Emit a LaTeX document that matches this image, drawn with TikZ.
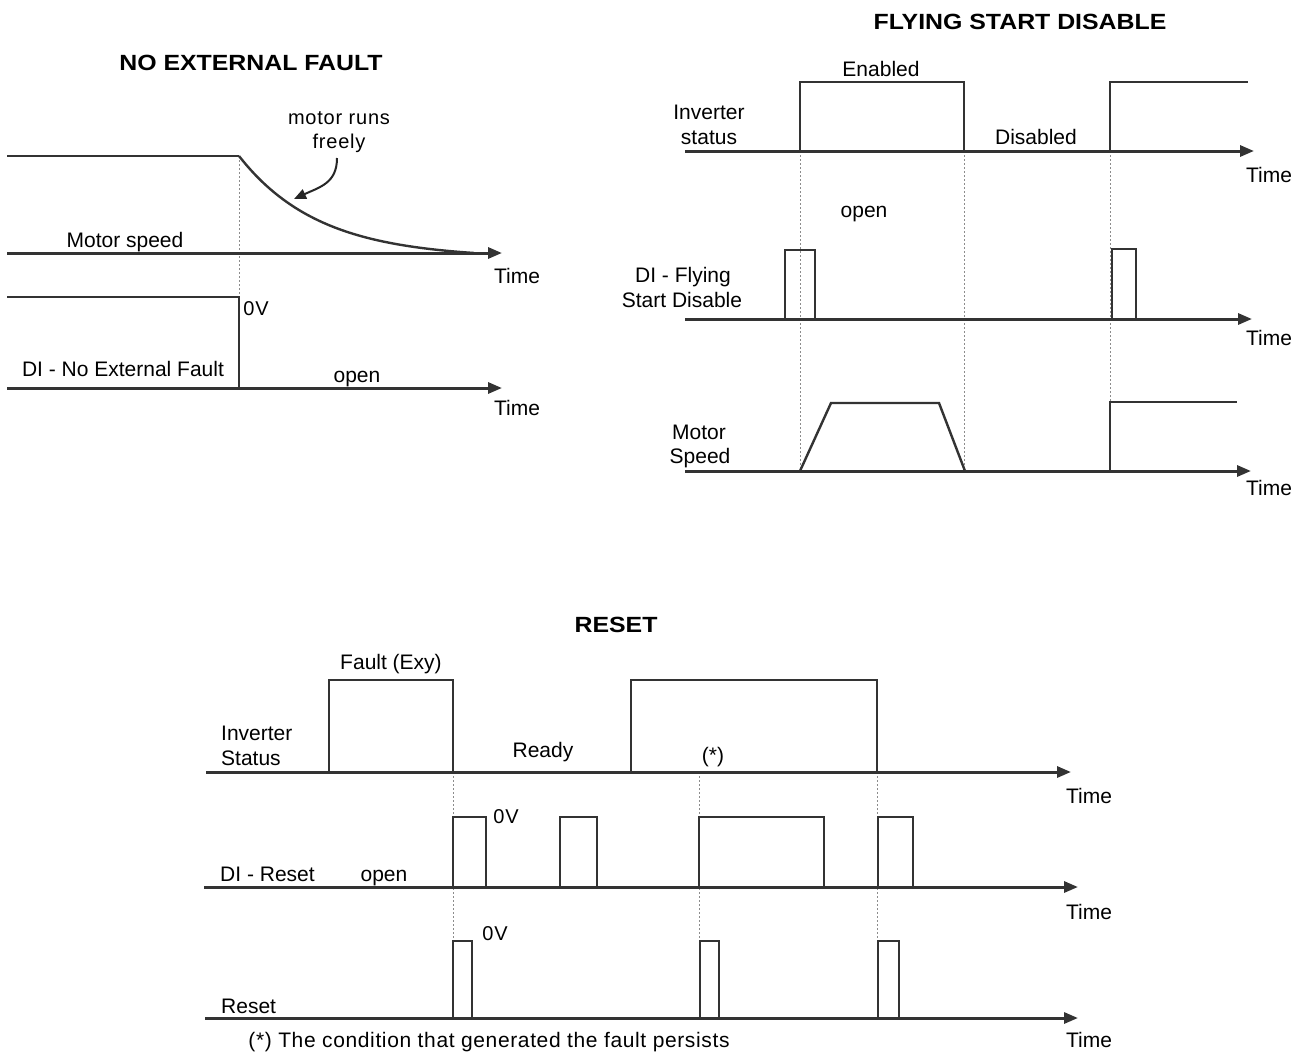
\documentclass[tikz,border=0pt]{standalone}
\usepackage{fontspec}
\setmainfont{Liberation Sans}
\newfontfamily\titlefont{Liberation Sans}[FakeStretch=1.13]
\usetikzlibrary{arrows.meta}
\begin{document}
\begin{tikzpicture}[x=1pt,y=-1pt,
  sig/.style={draw=black!80, line width=2.4pt, line join=miter},
  axis/.style={draw=black!80, line width=3pt, -{Triangle[length=14pt,width=11pt]}},
  guide/.style={draw=black!45, line width=0.9pt, dash pattern=on 2pt off 2pt},
  lbl/.style={inner sep=0pt, anchor=base, text=black, font=\fontsize{21}{24}\selectfont},
  lblw/.style={lbl, anchor=base west},
  spaced/.style={inner sep=0pt, anchor=base, text=black, font=\fontsize{20}{24}\selectfont\addfontfeature{LetterSpace=4}},
  ttl/.style={inner sep=0pt, anchor=base, text=black, font=\titlefont\bfseries\fontsize{22}{26}\selectfont}]
\useasboundingbox[fill=white] (0,0) rectangle (1301,1055);

% ===== NO EXTERNAL FAULT =====
\node[ttl] (t1) at (251,70) {NO EXTERNAL FAULT};
\draw[guide] (239,156) -- (239,297);
\draw[sig] (7,156) -- (239,156);
\draw[sig] plot[domain=0:235, samples=60] ({239+\x},{253-97*(exp(-\x/80)-0.0529)/0.9471});
\draw[axis] (7,253) -- (502,253);
\draw[sig] (7,297) -- (239,297) -- (239,388);
\draw[axis] (7,388) -- (502,388);
\node[spaced] (mr1) at (339,124) {motor runs};
\node[spaced] (mr2) at (339,148) {freely};
\coordinate (crvA) at (337,158);
\coordinate (crvB) at (294,199);
\draw[line width=2pt, draw=black!85, -{Triangle[length=12pt,width=10pt]}] (crvA) .. controls (337,183) and (320,187) .. (crvB);
\node[lbl] (ms) at (125,247) {Motor speed};
\node[lbl] (tm1) at (517,283) {Time};
\node[spaced] (ov1) at (256,315) {0V};
\node[lbl] (dinef) at (123,376) {DI - No External Fault};
\node[lbl] (op1) at (357,382) {open};
\node[lbl] (tm2) at (517,415) {Time};

% ===== FLYING START DISABLE =====
\node[ttl] (t2) at (1020,29) {FLYING START DISABLE};
\draw[guide] (800,151) -- (800,471);
\draw[guide] (964,151) -- (964,471);
\draw[guide] (1110,151) -- (1110,471);
\draw[axis] (685,151) -- (1254,151);
\draw[sig] (800,151) -- (800,82) -- (964,82) -- (964,151);
\draw[sig] (1110,151) -- (1110,82) -- (1248,82);
\draw[axis] (685,319) -- (1252,319);
\draw[sig] (785,319) -- (785,250) -- (815,250) -- (815,319);
\draw[sig] (1112,319) -- (1112,249) -- (1136,249) -- (1136,319);
\draw[axis] (685,471) -- (1251,471);
\draw[sig] (800,471) -- (831,403) -- (939,403) -- (965,471);
\draw[sig] (1110,471) -- (1110,402) -- (1237,402);
\node[lbl] (en) at (881,76) {Enabled};
\node[lbl] (inv1) at (709,119) {Inverter};
\node[lbl] (st1) at (709,144) {status};
\node[lbl] (dis) at (1036,144) {Disabled};
\node[lbl] (tm3) at (1269,182) {Time};
\node[lbl] (op2) at (864,217) {open};
\node[lbl] (dif1) at (683,282) {DI - Flying};
\node[lbl] (dif2) at (682,307) {Start Disable};
\node[lbl] (tm4) at (1269,345) {Time};
\node[lbl] (mot) at (699,439) {Motor};
\node[lbl] (spd) at (700,463) {Speed};
\node[lbl] (tm5) at (1269,495) {Time};

% ===== RESET =====
\node[ttl] (t3) at (616,632) {RESET};
\draw[guide] (453,772) -- (453,1018);
\draw[guide] (699,772) -- (699,1018);
\draw[guide] (877,772) -- (877,1018);
\draw[axis] (206,772) -- (1071,772);
\draw[sig] (329,772) -- (329,680) -- (453,680) -- (453,772);
\draw[sig] (631,772) -- (631,680) -- (877,680) -- (877,772);
\draw[axis] (204,887) -- (1078,887);
\draw[sig] (453,887) -- (453,817) -- (486,817) -- (486,887);
\draw[sig] (560,887) -- (560,817) -- (597,817) -- (597,887);
\draw[sig] (699,887) -- (699,817) -- (824,817) -- (824,887);
\draw[sig] (878,887) -- (878,817) -- (913,817) -- (913,887);
\draw[axis] (205,1018) -- (1078,1018);
\draw[sig] (453,1018) -- (453,941) -- (472,941) -- (472,1018);
\draw[sig] (700,1018) -- (700,941) -- (719,941) -- (719,1018);
\draw[sig] (878,1018) -- (878,941) -- (899,941) -- (899,1018);
\node[lbl] (fx) at (391,669) {Fault (Exy)};
\node[lblw] (inv2) at (221,740) {Inverter};
\node[lblw] (st2) at (221,765) {Status};
\node[lbl] (rdy) at (543,757) {Ready};
\node[lbl] (ast) at (713,762) {(*)};
\node[lbl] (tm6) at (1089,803) {Time};
\node[spaced] (ov2) at (506,823) {0V};
\node[lblw] (dir) at (220,881) {DI - Reset};
\node[lbl] (op3) at (384,881) {open};
\node[lbl] (tm7) at (1089,919) {Time};
\node[spaced] (ov3) at (495,940) {0V};
\node[lblw] (rst) at (221,1013) {Reset};
\node[inner sep=0pt, anchor=base, font=\fontsize{21}{24}\selectfont\addfontfeature{LetterSpace=3}] (fn) at (489,1047) {(*) The condition that generated the fault persists};
\node[lbl] (tm8) at (1089,1047) {Time};
\end{tikzpicture}
\end{document}
